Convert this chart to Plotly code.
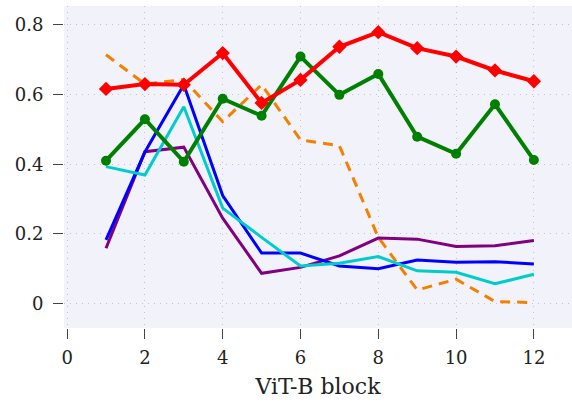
import plotly.graph_objects as go

blocks = [1, 2, 3, 4, 5, 6, 7, 8, 9, 10, 11, 12]
red_vals = [0.616, 0.630, 0.628, 0.719, 0.576, 0.642, 0.737, 0.779, 0.733, 0.709, 0.669, 0.638]
green_vals = [0.410, 0.529, 0.407, 0.588, 0.539, 0.709, 0.599, 0.659, 0.479, 0.430, 0.572, 0.412]
orange_vals = [0.714, 0.630, 0.643, 0.522, 0.628, 0.470, 0.453, 0.190, 0.039, 0.070, 0.006, 0.003]
blue_vals = [0.183, 0.435, 0.628, 0.310, 0.145, 0.145, 0.108, 0.100, 0.125, 0.119, 0.120, 0.114]
purple_vals = [0.159, 0.436, 0.449, 0.245, 0.087, 0.104, 0.137, 0.188, 0.185, 0.164, 0.166, 0.181]
cyan_vals = [0.393, 0.369, 0.565, 0.274, 0.190, 0.108, 0.116, 0.135, 0.094, 0.090, 0.057, 0.084]

x_ticks = [0, 2, 4, 6, 8, 10, 12]
y_ticks = [0, 0.2, 0.4, 0.6, 0.8]
y_tick_text = ["0", "0.2", "0.4", "0.6", "0.8"]

fig = go.Figure()
fig.add_trace(go.Scatter(x=blocks, y=orange_vals, mode="lines",
                         line=dict(color="#f58000", width=3, dash="10px,7px")))
fig.add_trace(go.Scatter(x=blocks, y=purple_vals, mode="lines",
                         line=dict(color="#800080", width=3)))
fig.add_trace(go.Scatter(x=blocks, y=blue_vals, mode="lines",
                         line=dict(color="#0000ff", width=3)))
fig.add_trace(go.Scatter(x=blocks, y=cyan_vals, mode="lines",
                         line=dict(color="#00cccc", width=3)))
fig.add_trace(go.Scatter(x=blocks, y=green_vals, mode="lines+markers",
                         line=dict(color="#008000", width=4),
                         marker=dict(symbol="circle", size=10, color="#008000")))
fig.add_trace(go.Scatter(x=blocks, y=red_vals, mode="lines+markers",
                         line=dict(color="#ff0000", width=4),
                         marker=dict(symbol="diamond", size=11, color="#ff0000")))

font_family = "DejaVu Serif"
fig.update_layout(
    width=572, height=406,
    margin=dict(l=64, r=0, t=6, b=78),
    paper_bgcolor="white",
    plot_bgcolor="#f2f2fa",
    showlegend=False,
    font=dict(family=font_family, size=18, color="#222222"),
    xaxis=dict(
        range=[-0.08, 12.98], tickvals=x_ticks, ticktext=[str(v) for v in x_ticks],
        showgrid=True, gridcolor="#c4c4c4", griddash="1px,5px", gridwidth=1,
        zeroline=False, showline=False,
        ticks="outside", ticklen=10, tickcolor="#444444", tickwidth=1.2,
        ticklabelstandoff=3,
        title=dict(text="ViT-B block", font=dict(size=22), standoff=12),
    ),
    yaxis=dict(
        range=[-0.07, 0.854], tickvals=y_ticks, ticktext=y_tick_text,
        showgrid=True, gridcolor="#c4c4c4", griddash="1px,5px", gridwidth=1,
        zeroline=False, showline=False,
        ticks="outside", ticklen=10, tickcolor="#444444", tickwidth=1.2,
        ticklabelstandoff=6,
    ),
)

fig.write_html("out.html")
